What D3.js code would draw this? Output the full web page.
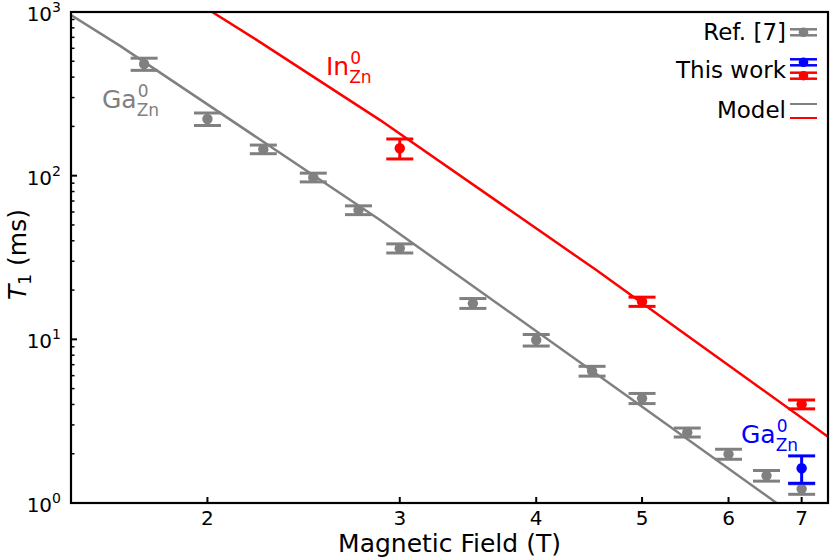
<!DOCTYPE html>
<html><head><meta charset="utf-8">
<script src="https://cdn.jsdelivr.net/npm/d3@7"></script>
<style>body{margin:0;background:#fff}svg{display:block;font-family:"DejaVu Sans",sans-serif}</style>
</head><body><svg id="c" width="830" height="557"></svg>
<script>
// ---- data ----
const refField = [1.75, 2.0, 2.25, 2.5, 2.75, 3.0, 3.5, 4.0, 4.5, 5.0, 5.5, 6.0, 6.5, 7.0];
const refT1    = [481, 222, 145, 97.6, 61.6, 36.0, 16.6, 9.90, 6.40, 4.36, 2.70, 1.99, 1.47, 1.22];
const refErr   = [41, 19.5, 8.8, 6.0, 3.8, 2.3, 1.15, 0.8, 0.44, 0.31, 0.17, 0.14, 0.11, 0.09];
const inField = [3, 5, 7];
const inT1    = [147, 17.0, 4.01];
const inErr   = [20.5, 1.1, 0.25];
const gaField = [7];
const gaT1    = [1.63];
const gaErr   = [0.31];
const modelGaField = [1.5, 1.665, 2.878, 4.67, 6.64];
const modelGaT1    = [957, 619, 53.6, 5.38, 1.0];
const modelInField = [2.02, 2.22, 2.878, 3.707, 4.54, 5.41, 7.40];
const modelInT1    = [1000, 673, 218.6, 67.7, 26.5, 11.4, 2.54];
const xTicks = [2, 3, 4, 5, 6, 7];
const yTicks = [1, 10, 100, 1000];
const yExp = ["0", "1", "2", "3"];
const legendLabels = ["Ref. [7]", "This work", "Model"];

const GRAY = "#808080", RED = "#ff0000", BLUE = "#0000ff";
const L = 71, R = 828, T = 12, B = 503;
const svg = d3.select("#c");
const x = d3.scaleLog().domain([1.5, 7.4]).range([L, R]);
const y = d3.scaleLog().domain([1, 1000]).range([B, T]);

svg.append("clipPath").attr("id", "clip").append("rect")
  .attr("x", L).attr("y", T).attr("width", R - L).attr("height", B - T);
const plot = svg.append("g").attr("clip-path", "url(#clip)");

// model lines
const line = d3.line().x(d => x(d[0])).y(d => y(d[1]));
plot.append("path").datum(d3.zip(modelGaField, modelGaT1)).attr("d", line)
  .attr("fill", "none").attr("stroke", GRAY).attr("stroke-width", 2.5);
plot.append("path").datum(d3.zip(modelInField, modelInT1)).attr("d", line)
  .attr("fill", "none").attr("stroke", RED).attr("stroke-width", 2.5);

function errorbars(fx, fy, fe, color) {
  const data = d3.zip(fx, fy, fe);
  const g = plot.append("g");
  const cw = 13.5;
  data.forEach(d => {
    const cx = x(d[0]), yt = y(d[1] + d[2]), yb = y(d[1] - d[2]);
    g.append("line").attr("x1", cx).attr("x2", cx).attr("y1", yt).attr("y2", yb)
      .attr("stroke", color).attr("stroke-width", 3);
    [yt, yb].forEach(yy => g.append("line").attr("x1", cx - cw).attr("x2", cx + cw)
      .attr("y1", yy).attr("y2", yy).attr("stroke", color).attr("stroke-width", 3));
    g.append("circle").attr("cx", cx).attr("cy", y(d[1])).attr("r", 5.2).attr("fill", color);
  });
}
errorbars(refField, refT1, refErr, GRAY);
errorbars(inField, inT1, inErr, RED);
errorbars(gaField, gaT1, gaErr, BLUE);

// axes
const ax = svg.append("g");
const minorY = [];
[1, 10, 100].forEach(b => { for (let k = 2; k <= 9; k++) minorY.push(b * k); });
minorY.forEach(v => ax.append("line").attr("x1", L).attr("x2", L + 3.5)
  .attr("y1", y(v)).attr("y2", y(v)).attr("stroke", "#000").attr("stroke-width", 1.5));
yTicks.forEach((v, i) => {
  ax.append("line").attr("x1", L).attr("x2", L + 6).attr("y1", y(v)).attr("y2", y(v))
    .attr("stroke", "#000").attr("stroke-width", 2);
  const t = ax.append("text").attr("x", L - 10).attr("y", y(v) + 9).attr("text-anchor", "end")
    .attr("font-size", 20).attr("fill", "#000");
  t.append("tspan").text("10");
  t.append("tspan").attr("dy", -9).attr("font-size", 14).text(yExp[i]);
});
xTicks.forEach(v => {
  ax.append("line").attr("x1", x(v)).attr("x2", x(v)).attr("y1", B).attr("y2", B - 6)
    .attr("stroke", "#000").attr("stroke-width", 2);
  ax.append("text").attr("x", x(v)).attr("y", B + 22).attr("text-anchor", "middle")
    .attr("font-size", 20).attr("fill", "#000").text(v);
});
ax.append("rect").attr("x", L).attr("y", T).attr("width", R - L).attr("height", B - T)
  .attr("fill", "none").attr("stroke", "#000").attr("stroke-width", 2.2);

// axis labels
svg.append("text").attr("x", (L + R) / 2).attr("y", 552).attr("text-anchor", "middle")
  .attr("font-size", 25).attr("fill", "#000").text("Magnetic Field (T)");
const yl = svg.append("text").attr("transform", `translate(26,${(T + B) / 2 - 3}) rotate(-90)`)
  .attr("text-anchor", "middle").attr("font-size", 25).attr("fill", "#000");
yl.append("tspan").attr("font-style", "italic").text("T");
yl.append("tspan").attr("dy", 5).attr("font-size", 17).text("1");
yl.append("tspan").attr("dy", -5).text(" (ms)");

// annotations
function species(px, py, main, sup, sub, color) {
  const g = svg.append("g").attr("fill", color);
  const t = g.append("text").attr("x", px).attr("y", py).attr("font-size", 25).text(main);
  const w = t.node().getComputedTextLength();
  g.append("text").attr("x", px + w + 1).attr("y", py - 11).attr("font-size", 17).text(sup);
  g.append("text").attr("x", px + w).attr("y", py + 8).attr("font-size", 17).text(sub);
}
species(102, 108, "Ga", "0", "Zn", GRAY);
species(326, 75, "In", "0", "Zn", RED);
species(741, 443, "Ga", "0", "Zn", BLUE);

// legend
const lg = svg.append("g");
const lx0 = 790, lx1 = 817, lxc = (lx0 + lx1) / 2;
const rows = [40, 78, 118];
legendLabels.forEach((s, i) => lg.append("text").attr("x", 786).attr("y", rows[i])
  .attr("text-anchor", "end").attr("font-size", 23).attr("fill", "#000").text(s));
function legErr(cy, color, h) {
  lg.append("line").attr("x1", lxc).attr("x2", lxc).attr("y1", cy - h).attr("y2", cy + h)
    .attr("stroke", color).attr("stroke-width", 2.5);
  [cy - h, cy + h].forEach(yy => lg.append("line").attr("x1", lx0).attr("x2", lx1)
    .attr("y1", yy).attr("y2", yy).attr("stroke", color).attr("stroke-width", 2.5));
  lg.append("circle").attr("cx", lxc).attr("cy", cy).attr("r", 4.8).attr("fill", color);
}
legErr(32.3, GRAY, 3);
legErr(62.3, BLUE, 3);
legErr(75.7, RED, 3);
[[104, GRAY], [118, RED]].forEach(([yy, c]) => lg.append("line").attr("x1", lx0).attr("x2", lx1)
  .attr("y1", yy).attr("y2", yy).attr("stroke", c).attr("stroke-width", 2));
</script></body></html>
